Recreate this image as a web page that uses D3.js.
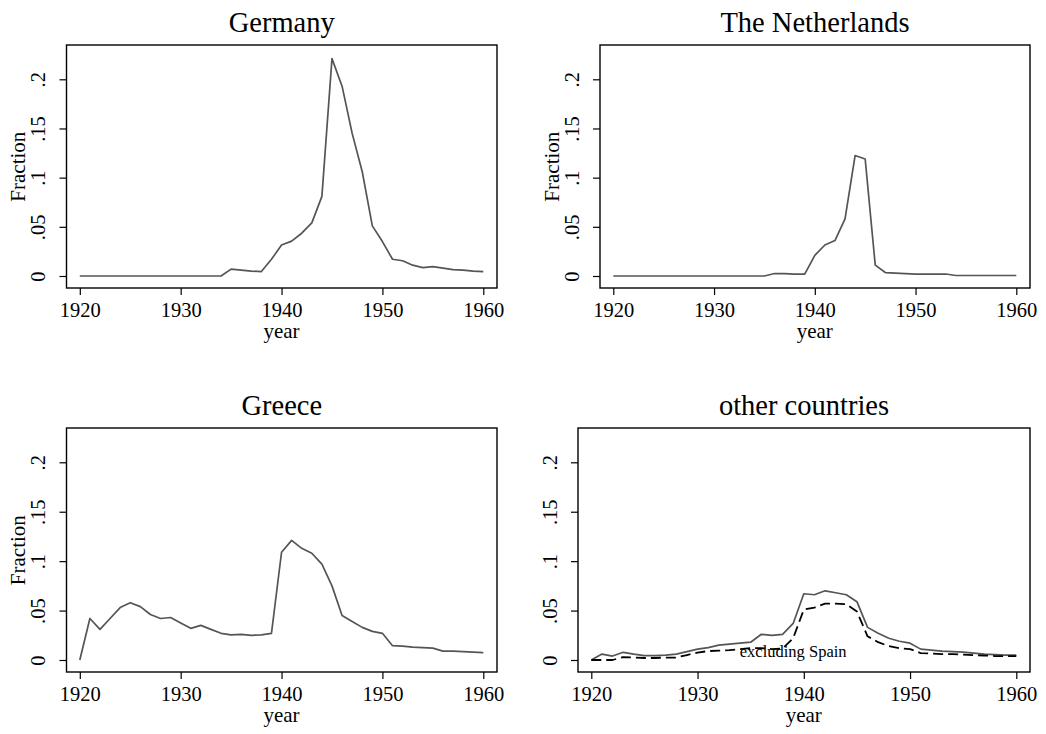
<!DOCTYPE html>
<html>
<head>
<meta charset="utf-8">
<script src="https://cdn.jsdelivr.net/npm/d3@7"></script>
<style>
  body { margin: 0; background: #fff; }
  svg { display: block; }
  text { font-family: "Liberation Serif", "Times New Roman", serif; fill: #000; }
</style>
</head>
<body>
<svg id="chart" width="1046" height="734"></svg>
<script>
// years 1920..1960
var years = d3.range(1920, 1961);

var germany = [0, 0, 0, 0, 0, 0, 0, 0, 0, 0,
  0, 0, 0, 0, 0, 0.007, 0.006, 0.005, 0.0045, 0.017,
  0.0315, 0.0355, 0.0435, 0.054, 0.081, 0.221, 0.193, 0.145, 0.106, 0.051,
  0.035, 0.017, 0.0155, 0.011, 0.0085, 0.0095, 0.008, 0.0065, 0.006, 0.005,
  0.0045];

var netherlands = [0, 0, 0, 0, 0, 0, 0, 0, 0, 0,
  0, 0, 0, 0, 0, 0, 0.0025, 0.0025, 0.002, 0.002,
  0.021, 0.0315, 0.036, 0.058, 0.1225, 0.119, 0.011, 0.0035, 0.003, 0.0025,
  0.002, 0.002, 0.002, 0.002, 0.0005, 0.0005, 0.0005, 0.0005, 0.0005, 0.0005,
  0.0005];

var greece = [0, 0.042, 0.031, 0.042, 0.053, 0.058, 0.054, 0.046, 0.042, 0.043,
  0.0375, 0.032, 0.035, 0.031, 0.027, 0.0255, 0.026, 0.025, 0.0255, 0.027,
  0.109, 0.121, 0.113, 0.108, 0.097, 0.075, 0.045, 0.039, 0.033, 0.029,
  0.027, 0.0145, 0.014, 0.013, 0.0125, 0.012, 0.009, 0.009, 0.0085, 0.008,
  0.0075];

var others = [0, 0.006, 0.004, 0.0078, 0.006, 0.0045, 0.0045, 0.005, 0.006, 0.0085,
  0.011, 0.0125, 0.015, 0.016, 0.017, 0.018, 0.026, 0.025, 0.026, 0.037,
  0.067, 0.066, 0.07, 0.068, 0.066, 0.059, 0.033, 0.027, 0.022, 0.019,
  0.017, 0.011, 0.01, 0.009, 0.0085, 0.008, 0.007, 0.006, 0.0055, 0.005,
  0.005];

var othersNoSpain = [0, 0, 0, 0.003, 0.0025, 0.002, 0.002, 0.0025, 0.0025, 0.005,
  0.0075, 0.009, 0.0095, 0.01, 0.011, 0.012, 0.012, 0.011, 0.0115, 0.022,
  0.051, 0.053, 0.057, 0.057, 0.0565, 0.049, 0.024, 0.018, 0.014, 0.012,
  0.011, 0.007, 0.0065, 0.006, 0.006, 0.0055, 0.005, 0.0045, 0.004, 0.004,
  0.004];

var xTicks = [1920, 1930, 1940, 1950, 1960];
var yTicks = [0, 0.05, 0.1, 0.15, 0.2];
var yTickLabels = ["0", ".05", ".1", ".15", ".2"];

var panels = [
  {title: "Germany", series: [germany], box: {l: 66.5, r: 497, t: 45, b: 288}, ytitle: true},
  {title: "The Netherlands", series: [netherlands], box: {l: 600, r: 1030, t: 45, b: 288}, ytitle: true},
  {title: "Greece", series: [greece], box: {l: 66.5, r: 497, t: 428, b: 672}, ytitle: true},
  {title: "other countries", series: [others, othersNoSpain], box: {l: 578, r: 1030, t: 428, b: 672}, ytitle: false,
   note: {text: "excluding Spain", year: 1939, value: 0.003}}
];

var svg = d3.select("#chart");

panels.forEach(function (p) {
    var b = p.box;
    var g = svg.append("g");

    var x = d3.scaleLinear().domain([1920, 1960]).range([b.l + 13.3, b.r - 13.7]);
    var y = d3.scaleLinear().domain([0, 0.2]).range([b.b - 12, b.t + 34.3]);

    // title
    g.append("text")
      .attr("x", (b.l + b.r) / 2)
      .attr("y", b.t - 12.7)
      .attr("text-anchor", "middle")
      .style("font-size", "28.5px")
      .text(p.title);

    // x axis
    var xa = g.append("g")
      .attr("transform", "translate(0," + b.b + ")")
      .call(d3.axisBottom(x).tickValues(xTicks).tickSize(7).tickFormat(d3.format("d")));
    xa.select(".domain").remove();
    xa.selectAll("line").attr("stroke", "#000").attr("stroke-width", 1.2);
    xa.selectAll("text")
      .attr("y", 28.7).attr("dy", 0)
      .style("font-size", "20.5px")
      .style("font-family", "'Liberation Serif', 'Times New Roman', serif");

    g.append("text")
      .attr("x", (x(1920) + x(1960)) / 2)
      .attr("y", b.b + 49.5)
      .attr("text-anchor", "middle")
      .style("font-size", "21px")
      .text("year");

    // y axis
    var ya = g.append("g")
      .attr("transform", "translate(" + b.l + ",0)")
      .call(d3.axisLeft(y).tickValues(yTicks).tickSize(7).tickFormat(function (d, i) { return yTickLabels[i]; }));
    ya.select(".domain").remove();
    ya.selectAll("line").attr("stroke", "#000").attr("stroke-width", 1.2);
    ya.selectAll("text")
      .attr("transform", "rotate(-90)")
      .attr("x", 0).attr("y", -21.5).attr("dy", 0)
      .attr("text-anchor", "middle")
      .style("font-size", "20.5px")
      .style("font-family", "'Liberation Serif', 'Times New Roman', serif");

    if (p.ytitle) {
        var cy = (y(0) + y(0.2)) / 2 - 11;
        g.append("text")
          .attr("transform", "translate(" + (b.l - 41.5) + "," + cy + ") rotate(-90)")
          .attr("text-anchor", "middle")
          .style("font-size", "21px")
          .text("Fraction");
    }

    // lines
    var line = d3.line()
      .x(function (d, i) { return x(years[i]); })
      .y(function (d) { return y(d); });

    p.series.forEach(function (s, k) {
        g.append("path")
          .datum(s)
          .attr("d", line)
          .attr("fill", "none")
          .attr("stroke", k === 0 ? "#555555" : "#000")
          .attr("stroke-width", k === 0 ? 1.7 : 1.8)
          .attr("stroke-dasharray", k === 0 ? null : "10,5")
          .attr("stroke-linejoin", "round");
    });

    if (p.note) {
        g.append("text")
          .attr("x", x(p.note.year))
          .attr("y", y(p.note.value))
          .attr("text-anchor", "middle")
          .style("font-size", "16.5px")
          .text(p.note.text);
    }

    // plot region box
    g.append("rect")
      .attr("x", b.l).attr("y", b.t)
      .attr("width", b.r - b.l).attr("height", b.b - b.t)
      .attr("fill", "none")
      .attr("stroke", "#000")
      .attr("stroke-width", 1.4);
});
</script>
</body>
</html>
